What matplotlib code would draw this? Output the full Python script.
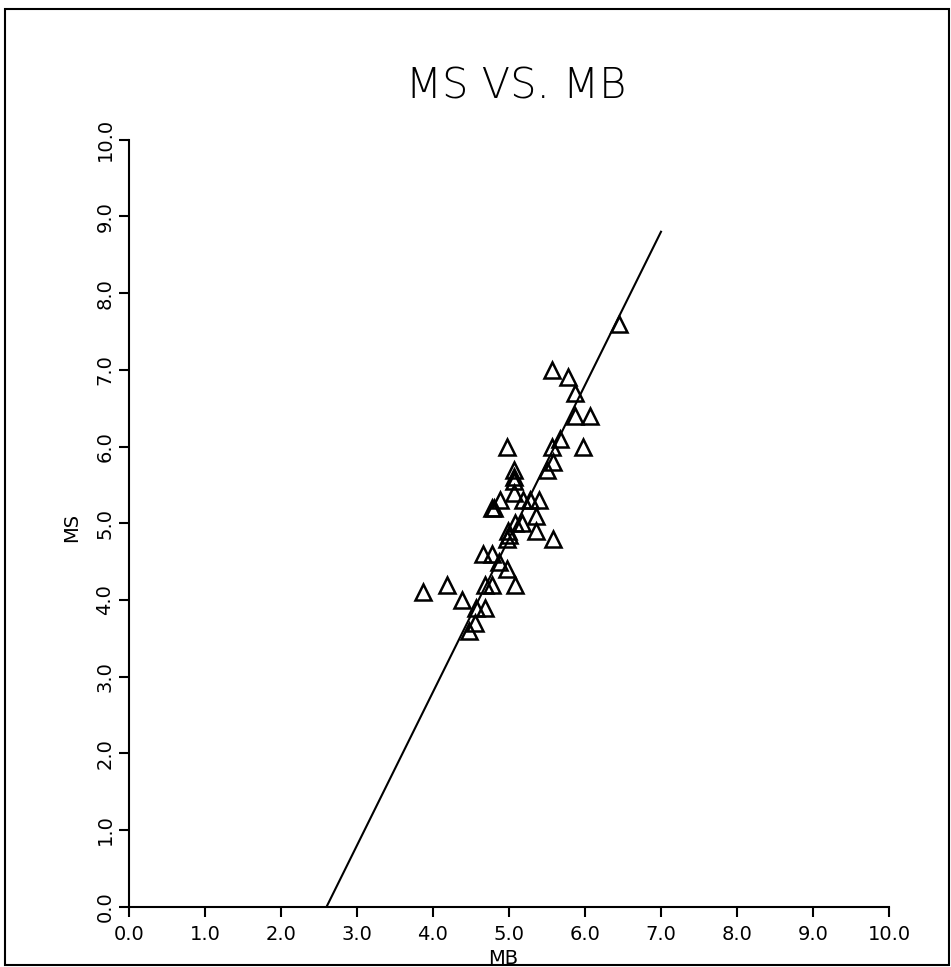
import matplotlib
matplotlib.use("Agg")
import matplotlib.pyplot as plt
from matplotlib.patches import Rectangle

# data
mb = [6.45, 5.56, 5.78, 5.87, 5.87, 6.07, 5.67, 5.57, 5.97, 4.97,
      5.58, 5.50, 5.06, 5.06, 5.07, 5.06, 4.88, 4.77, 4.80, 5.19,
      5.28, 5.39, 5.36, 5.36, 5.58, 5.17, 5.08, 4.99, 4.97, 5.00,
      4.66, 4.77, 4.87, 4.97, 5.08, 4.68, 4.77, 4.18, 3.87, 4.38,
      4.57, 4.68, 4.55, 4.47]
ms = [7.6, 7.0, 6.9, 6.7, 6.4, 6.4, 6.1, 6.0, 6.0, 6.0,
      5.8, 5.7, 5.7, 5.6, 5.55, 5.4, 5.3, 5.2, 5.2, 5.3,
      5.3, 5.3, 5.1, 4.9, 4.8, 5.0, 5.0, 4.9, 4.8, 4.85,
      4.6, 4.6, 4.5, 4.4, 4.2, 4.2, 4.2, 4.2, 4.1, 4.0,
      3.9, 3.9, 3.7, 3.6]

# fitted line end points
fit_mb = [2.6, 7.0]
fit_ms = [0.0, 8.8]

ticks = [0, 1, 2, 3, 4, 5, 6, 7, 8, 9, 10]
tick_labels = ['%.1f' % t for t in ticks]

plt.rcParams['font.family'] = 'DejaVu Sans'

fig = plt.figure(figsize=(9.51, 9.67), dpi=100)
ax = fig.add_axes([129/951, 60.3/967, 760/951, 767/967])

ax.plot(fit_mb, fit_ms, color='black', lw=1.5)
ax.plot(mb, ms, linestyle='none', marker='^', markersize=11.5,
        markerfacecolor='none', markeredgecolor='black', markeredgewidth=1.8)

ax.set_xlim(0, 10)
ax.set_ylim(0, 10)
ax.spines['top'].set_visible(False)
ax.spines['right'].set_visible(False)
ax.spines['left'].set_linewidth(1.5)
ax.spines['bottom'].set_linewidth(1.5)

ax.set_xticks(ticks)
ax.set_xticklabels(tick_labels, fontsize=14)
ax.set_yticks(ticks)
ax.set_yticklabels(tick_labels, fontsize=14, rotation=90, va='center')
ax.tick_params(axis='both', direction='out', length=7.5, width=1.5)
ax.tick_params(axis='x', pad=6)
ax.tick_params(axis='y', pad=3)

ax.set_xlabel('MB', fontsize=14)
ax.xaxis.set_label_coords(0.493, -0.067)
ax.xaxis.label.set_va('center')
ax.set_ylabel('MS', fontsize=14)
ax.yaxis.set_label_coords(-0.076, 0.494)
ax.yaxis.label.set_va('center')

fig.text(516/951, (967-86)/967, 'MS VS. MB', fontsize=30,
         ha='center', va='center', fontweight='light')

# page frame
fig.patches.append(Rectangle((5/951, 2/967), 944/951, 956/967,
                             transform=fig.transFigure, fill=False,
                             edgecolor='black', lw=1.5))

fig.savefig('out.png', dpi=100)
